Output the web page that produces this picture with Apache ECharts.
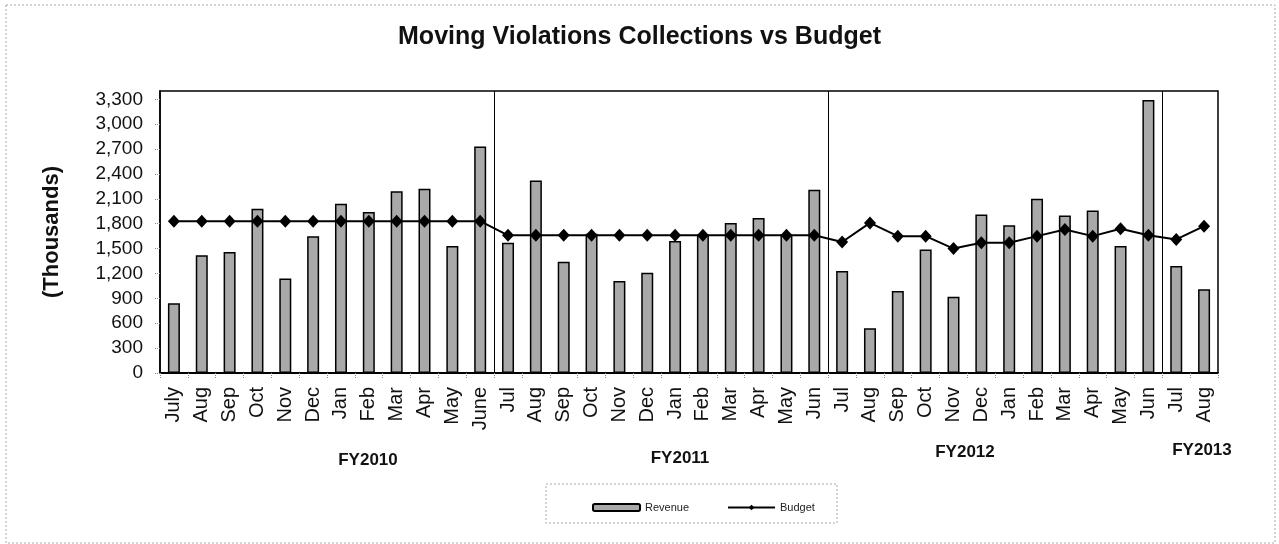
<!DOCTYPE html>
<html>
<head>
<meta charset="utf-8">
<script src="https://cdn.jsdelivr.net/npm/echarts@6/dist/echarts.min.js"></script>
<style>
html,body{margin:0;padding:0;background:#fff;}
#chart{width:1279px;height:544px;}
</style>
</head>
<body>
<div id="chart"></div>
<script>
var categories = ['July','Aug','Sep','Oct','Nov','Dec','Jan','Feb','Mar','Apr','May','June',
                  'Jul','Aug','Sep','Oct','Nov','Dec','Jan','Feb','Mar','Apr','May','Jun',
                  'Jul','Aug','Sep','Oct','Nov','Dec','Jan','Feb','Mar','Apr','May','Jun',
                  'Jul','Aug'];
var revenue = [840,1420,1460,1980,1140,1650,2040,1940,2190,2220,1530,2730,
               1570,2320,1340,1680,1110,1210,1590,1670,1810,1870,1670,2210,
               1230,540,990,1490,920,1910,1780,2100,1900,1960,1530,3290,
               1290,1010];
var budget = [1830,1830,1830,1830,1830,1830,1830,1830,1830,1830,1830,1830,
              1660,1660,1660,1660,1660,1660,1660,1660,1660,1660,1660,1660,
              1580,1810,1650,1650,1500,1570,1570,1650,1730,1650,1740,1660,
              1610,1770];
var fiscalYears = ['FY2010','FY2011','FY2012','FY2013'];
var fyBoundaries = [12,24,36];
var yTickValues = [0,300,600,900,1200,1500,1800,2100,2400,2700,3000,3300];

var FONT = "'Liberation Sans', Arial, sans-serif";
var chart = echarts.init(document.getElementById('chart'));

var fyPos = [[368,460],[680,458],[965,452],[1202,450]];

chart.setOption({
  backgroundColor: '#ffffff',
  animation: false,
  title: {
    text: 'Moving Violations Collections vs Budget',
    left: 'center',
    top: 20,
    textStyle: {fontFamily: FONT, fontSize: 25, fontWeight: 'bold', color: '#111'}
  },
  legend: {
    data: ['Revenue','Budget'],
    left: 587,
    top: 497,
    itemWidth: 47,
    itemHeight: 7,
    itemGap: 38,
    textStyle: {fontFamily: FONT, fontSize: 11, color: '#222'}
  },
  grid: {
    left: 160, right: 61, top: 91, bottom: 171,
    show: true, borderColor: '#000', borderWidth: 1.5, backgroundColor: 'transparent'
  },
  xAxis: [{
    type: 'category',
    data: categories,
    boundaryGap: true,
    axisLine: {lineStyle: {color: '#000', width: 2}},
    axisTick: {show: true, length: 5, lineStyle: {color: '#888', type: 'dotted'}},
    axisLabel: {rotate: 90, interval: 0, margin: 14, fontFamily: FONT, fontSize: 20, color: '#111'}
  }, {
    type: 'value',
    min: 0, max: categories.length,
    show: false
  }],
  yAxis: {
    type: 'value',
    min: 0, max: 3400, interval: 300,
    name: '(Thousands)',
    nameLocation: 'middle',
    nameGap: 97,
    nameTextStyle: {fontFamily: FONT, fontSize: 22, fontWeight: 'bold', color: '#111'},
    axisLine: {show: true, lineStyle: {color: '#000', width: 1.5}},
    axisTick: {show: true, length: 6, lineStyle: {color: '#888', type: 'dotted'}},
    splitLine: {show: false},
    axisLabel: {
      showMaxLabel: false,
      margin: 17,
      fontFamily: FONT, fontSize: 19, color: '#111',
      formatter: function (v) { return yTickValues.indexOf(v) >= 0 ? v.toLocaleString('en-US') : ''; }
    }
  },
  series: [{
    name: 'Revenue',
    type: 'bar',
    data: revenue,
    barWidth: 12,
    itemStyle: {color: '#a9a9a9', borderColor: '#000', borderWidth: 1.5}
  }, {
    name: 'Budget',
    type: 'line',
    data: budget,
    symbol: 'diamond',
    symbolSize: [12, 13],
    itemStyle: {color: '#000'},
    lineStyle: {color: '#000', width: 2},
    z: 5
  }, {
    name: 'fy-separators',
    type: 'line',
    xAxisIndex: 1,
    data: [],
    silent: true,
    markLine: {
      symbol: 'none',
      silent: true,
      label: {show: false},
      lineStyle: {color: '#000', width: 1, type: 'solid'},
      data: fyBoundaries.map(function (b) { return {xAxis: b}; })
    }
  }],
  graphic: [{
    type: 'rect',
    shape: {x: 6, y: 5, width: 1269, height: 538},
    style: {fill: 'none', stroke: '#aaa', lineWidth: 1, lineDash: [2, 2]},
    silent: true
  }, {
    type: 'rect',
    shape: {x: 546, y: 484, width: 291, height: 39},
    style: {fill: 'none', stroke: '#aaa', lineWidth: 1, lineDash: [2, 2]},
    silent: true
  }].concat(fiscalYears.map(function (fy, i) {
    return {
      type: 'text',
      x: fyPos[i][0], y: fyPos[i][1],
      style: {text: fy, fontFamily: FONT, fontSize: 17, fontWeight: 'bold', fill: '#111', align: 'center', verticalAlign: 'middle'},
      silent: true
    };
  }))
});
</script>
</body>
</html>
